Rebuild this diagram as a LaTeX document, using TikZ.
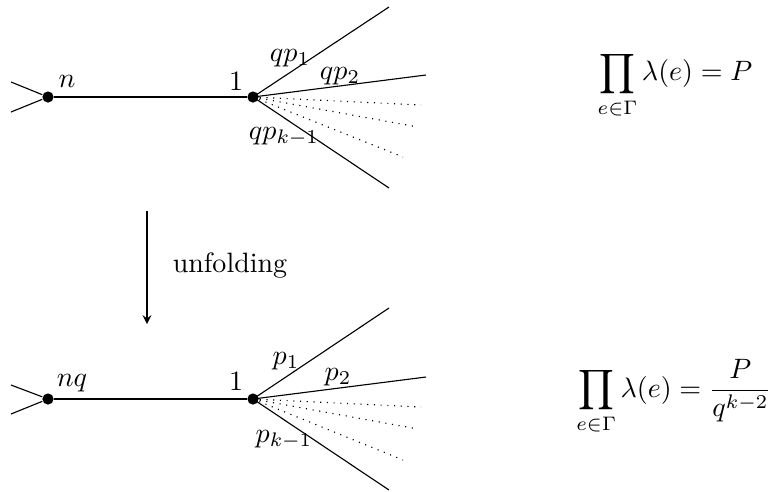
\documentclass[tikz,border=0pt]{standalone}
\usepackage{amsmath}
\begin{document}
\begin{tikzpicture}[x=0.357pt,y=-0.357pt,
  vtx/.style={circle,fill=black,inner sep=0pt,minimum size=4pt},
  dotline/.style={dotted},
  lbl/.style={inner sep=0pt}]
\useasboundingbox (0,0) rectangle (769,491);
% ---------- top graph ----------
\node[vtx] (tn) at (48,97) {};
\node[vtx] (t1) at (253,97) {};
\coordinate (tw1) at (11,82);
\coordinate (tw2) at (11,112);
\coordinate (te1) at (389,7);
\coordinate (te2) at (426,75);
\coordinate (te3) at (389,188);
\coordinate (td1) at (421,105);
\coordinate (td2) at (418,127);
\coordinate (td3) at (403,157);
\draw (tw1) -- (tn);
\draw (tw2) -- (tn);
\draw (tn) -- (t1);
\draw (t1.center) -- (te1);
\draw (t1.center) -- (te2);
\draw (t1.center) -- (te3);
\draw[dotline] (t1.center) -- (td1);
\draw[dotline] (t1.center) -- (td2);
\draw[dotline] (t1.center) -- (td3);
\node[lbl] (ltn) at (67,81) {$n$};
\node[lbl] (lt1) at (236,81) {$1$};
\node[lbl] (ltp1) at (290,58) {$qp_1$};
\node[lbl] (ltp2) at (340,76) {$qp_2$};
\node[lbl] (ltpk) at (284,137) {$qp_{k-1}$};
\node[lbl] (ft) at (675,85) {$\displaystyle\prod_{e\in\Gamma}\lambda(e)=P$};
% ---------- arrow ----------
\coordinate (as) at (147,211);
\coordinate (ae) at (147,324);
\draw[-stealth] (as) -- (ae);
\node[lbl] (unf) at (230,266) {unfolding};
% ---------- bottom graph ----------
\node[vtx] (bn) at (48,399) {};
\node[vtx] (b1) at (253,399) {};
\coordinate (bw1) at (11,385);
\coordinate (bw2) at (11,414);
\coordinate (be1) at (389,308);
\coordinate (be2) at (426,377);
\coordinate (be3) at (389,490);
\coordinate (bd1) at (421,407);
\coordinate (bd2) at (418,429);
\coordinate (bd3) at (403,460);
\draw (bw1) -- (bn);
\draw (bw2) -- (bn);
\draw (bn) -- (b1);
\draw (b1.center) -- (be1);
\draw (b1.center) -- (be2);
\draw (b1.center) -- (be3);
\draw[dotline] (b1.center) -- (bd1);
\draw[dotline] (b1.center) -- (bd2);
\draw[dotline] (b1.center) -- (bd3);
\node[lbl] (lbn) at (72,383) {$nq$};
\node[lbl] (lb1) at (236,381) {$1$};
\node[lbl] (lbp1) at (286,361) {$p_1$};
\node[lbl] (lbp2) at (338,377) {$p_2$};
\node[lbl] (lbpk) at (284,440) {$p_{k-1}$};
\node[lbl] (fb) at (674,397) {$\displaystyle\prod_{e\in\Gamma}\lambda(e)=\frac{P}{q^{k-2}}$};
\end{tikzpicture}
\end{document}
